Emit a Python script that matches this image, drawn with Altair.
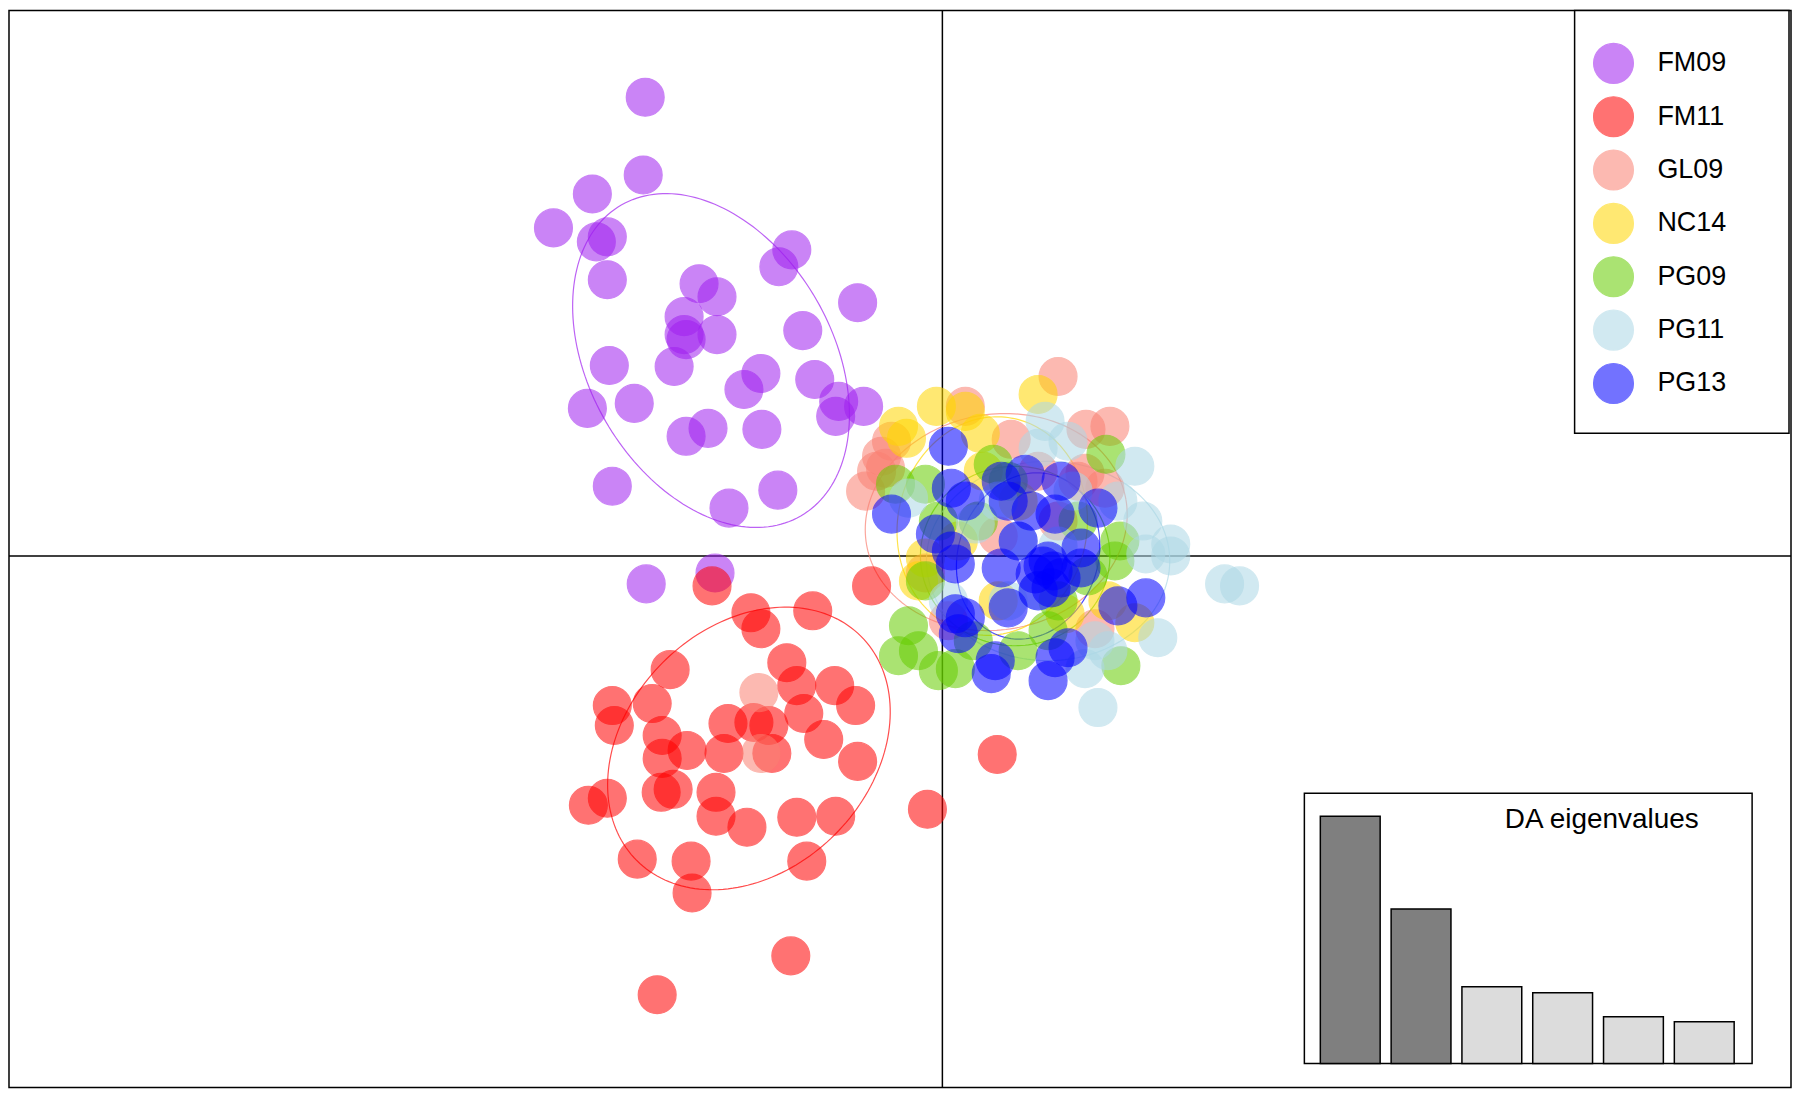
import numpy as np
import pandas as pd
import altair as alt

# ---------------- data (LD1 / LD2 scores) ----------------
groups = ["FM09", "FM11", "GL09", "NC14", "PG09", "PG11", "PG13"]
colors = ["#A020F0", "#FF0000", "#FA8072", "#FFD700", "#66CD00", "#ADD8E6", "#0000FF"]

fm09_x = [-2.98, -3.00, -3.51, -3.90, -3.47, -3.36, -3.36, -1.51, -1.64, -0.85, -2.44, -2.26,
          -2.59, -2.59, -2.57, -2.26, -1.40, -3.34, -2.69, -1.82, -1.99, -1.28, -1.04, -1.07,
          -0.79, -3.56, -3.09, -2.57, -2.35, -1.81, -3.31, -2.14, -1.65, -2.97, -2.28]
fm09_y = [4.60, 3.82, 3.63, 3.29, 3.15, 3.20, 2.77, 3.07, 2.90, 2.54, 2.73, 2.60,
          2.40, 2.22, 2.17, 2.22, 2.26, 1.91, 1.90, 1.83, 1.67, 1.77, 1.55, 1.40,
          1.50, 1.48, 1.53, 1.20, 1.28, 1.27, 0.70, 0.48, 0.66, -0.28, -0.17]

fm11_x = [-2.31, -0.71, -1.92, -1.82, -1.30, -2.73, -1.56, -1.46, -1.08, -0.87,
          -3.31, -3.29, -2.91, -1.39, -2.15, -1.89, -1.74, -2.81, -2.56, -2.81,
          -2.19, -1.71, -1.19, -0.85, -2.82, -2.70, -3.36, -3.55, -2.27, -2.27,
          -1.96, -1.46, -1.07, -0.15, -3.06, -2.52, -1.36, -2.51, -1.52, -2.86, 0.55]
fm11_y = [-0.30, -0.30, -0.57, -0.73, -0.55, -1.14, -1.07, -1.30, -1.30, -1.50,
          -1.50, -1.70, -1.48, -1.58, -1.68, -1.67, -1.70, -1.80, -1.95, -2.03,
          -1.98, -1.98, -1.84, -2.06, -2.37, -2.34, -2.43, -2.50, -2.37, -2.61,
          -2.72, -2.62, -2.61, -2.54, -3.04, -3.06, -3.06, -3.38, -4.01, -4.40, -1.99]

gl09_x = [1.16, 0.23, 1.68, 1.44, 0.69, -0.51, -0.61, -0.66, -0.77, -0.57, 1.43,
          1.63, 1.53, -0.17, 1.36, 0.96, 0.06, 0.56, 1.16, -1.84, -1.82]
gl09_y = [1.80, 1.50, 1.30, 1.27, 1.17, 1.15, 1.00, 0.85, 0.65, 0.88, 0.83,
          0.68, -0.73, -0.17, 0.75, 0.85, -0.65, 0.20, 0.35, -1.37, -1.98]

nc14_x = [0.96, -0.06, 0.23, -0.44, -0.36, 0.38, -0.17, -0.24, 1.23, 1.93, 0.41, 0.76, 0.16, 1.66, 0.56]
nc14_y = [1.62, 1.50, 1.45, 1.30, 1.18, 1.23, -0.02, -0.25, -0.58, -0.67, 0.85, 0.55, 0.15, -0.45, -0.45]

pg09_x = [1.64, 0.51, -0.17, -0.47, 1.78, 1.73, -0.34, -0.44, -0.24, -0.04, 0.13,
          -0.17, 1.79, 0.76, 0.31, 1.16, 1.46, 0.36, 0.66, -0.04, 1.06, 1.36]
pg09_y = [1.02, 0.92, 0.72, 0.72, 0.15, -0.05, -0.70, -1.00, -0.95, -1.15, -1.13,
          -0.25, -1.10, -0.95, -0.85, -0.45, -0.20, 0.35, 0.75, 0.35, -0.75, 0.35]

pg11_x = [1.03, 0.96, 1.93, 2.01, 2.29, 2.04, 2.29, 2.83, 2.98, 2.16, 1.56, 1.43, 1.53,
          -0.34, 0.33, 0.76, 1.16, 0.56, 1.31, 1.76, 0.96, 0.66, 1.66, 0.06, 1.26]
pg11_y = [1.35, 1.08, 0.90, 0.35, 0.12, 0.02, 0.00, -0.28, -0.30, -0.82, -1.52, -1.13, -0.85,
          0.58, 0.32, 0.15, 0.10, 0.55, 0.65, 0.55, -0.35, -0.45, -0.95, -0.45, 1.15]

pg13_x = [0.06, 0.09, 0.23, -0.51, 0.59, 0.83, 1.19, 1.56, 0.66, 0.89,
          1.13, -0.07, 0.09, 0.13, 1.06, 1.39, 0.59, 1.19, 1.39, 0.93,
          1.09, 1.01, 1.11, 1.76, 2.04, 0.13, 0.23, 0.66, 0.16, 0.53,
          0.49, 1.06, 1.26, 1.13, 0.96, 0.76]
pg13_y = [1.10, 0.68, 0.55, 0.42, 0.75, 0.82, 0.75, 0.48, 0.55, 0.45,
          0.42, 0.22, 0.05, -0.08, -0.05, 0.08, -0.12, -0.22, -0.12, -0.18,
          -0.32, -0.10, -0.15, -0.50, -0.42, -0.58, -0.62, -0.52, -0.78, -1.05,
          -1.18, -1.25, -0.92, -1.02, -0.35, 0.15]

# inertia ellipses per group: centre, semi-axes, rotation (degrees)
ell_cx = [-2.32, -1.94, 0.54, 0.50, 0.73, 1.06, 0.86]
ell_cy = [1.96, -1.93, 0.34, 0.30, 0.00, -0.05, 0.00]
ell_a = [1.80, 1.59, 1.32, 1.10, 0.95, 1.22, 0.85]
ell_b = [1.22, 1.22, 1.08, 0.95, 0.90, 1.00, 0.70]
ell_ang = [-60, 45, 10, 80, 0, 0, 70]

# DA eigenvalues (inset)
eig_values = [24.8, 15.5, 7.7, 7.1, 4.7, 4.2]
eig_retained = ["yes", "yes", "no", "no", "no", "no"]

# ---------------- tables ----------------
xs = [fm09_x, fm11_x, gl09_x, nc14_x, pg09_x, pg11_x, pg13_x]
ys = [fm09_y, fm11_y, gl09_y, nc14_y, pg09_y, pg11_y, pg13_y]
rows = []
for g, gx, gy in zip(groups, xs, ys):
    assert len(gx) == len(gy), g
    for a, b in zip(gx, gy):
        rows.append({"group": g, "LD1": a, "LD2": b})
pts = pd.DataFrame(rows)
pts["ord"] = np.arange(len(pts))

t = np.linspace(0, 2 * np.pi, 181)
erows = []
for g, cx, cy, a, b, ang in zip(groups, ell_cx, ell_cy, ell_a, ell_b, ell_ang):
    th = np.deg2rad(ang)
    ex = cx + a * np.cos(t) * np.cos(th) - b * np.sin(t) * np.sin(th)
    ey = cy + a * np.cos(t) * np.sin(th) + b * np.sin(t) * np.cos(th)
    for k, (u, v) in enumerate(zip(ex, ey)):
        erows.append({"group": g, "LD1": u, "LD2": v, "k": k})
ell = pd.DataFrame(erows)

eig = pd.DataFrame({"axis": np.arange(1, len(eig_values) + 1), "eig": eig_values,
                    "retained": eig_retained})

leg = pd.DataFrame({"group": groups, "idx": np.arange(len(groups))})

FONT = "Liberation Sans"
W, H = 1787, 1080
xdom = [-9.36, 8.51]
ydom = [-5.33, 5.47]
xs_ = alt.Scale(domain=xdom, nice=False, zero=False)
ys_ = alt.Scale(domain=ydom, nice=False, zero=False)
cscale = alt.Scale(domain=groups, range=colors)

# ---------------- main scatter ----------------
base_rule = alt.Chart(pd.DataFrame({"v": [0]}))
vrule = base_rule.mark_rule(color="black", strokeWidth=1.5).encode(
    x=alt.X("v:Q", scale=xs_, axis=None))
hrule = base_rule.mark_rule(color="black", strokeWidth=1.5).encode(
    y=alt.Y("v:Q", scale=ys_, axis=None))

ellipses = alt.Chart(ell).mark_line(strokeWidth=1.2, strokeOpacity=0.7).encode(
    x=alt.X("LD1:Q", scale=xs_, axis=None),
    y=alt.Y("LD2:Q", scale=ys_, axis=None),
    stroke=alt.Stroke("group:N", scale=cscale, legend=None),
    detail="group:N",
    order="k:Q",
)

points = alt.Chart(pts).mark_circle(size=1444, opacity=0.55, strokeWidth=1.2).encode(
    x=alt.X("LD1:Q", scale=xs_, axis=None),
    y=alt.Y("LD2:Q", scale=ys_, axis=None),
    color=alt.Color("group:N", scale=cscale, legend=None),
    stroke=alt.Stroke("group:N", scale=cscale, legend=None),
    order="ord:Q",
)

main = alt.layer(vrule, hrule, ellipses, points)

# ---------------- legend (drawn as marks) ----------------
legend_box = alt.Chart(pd.DataFrame({"v": [0]})).mark_rect(
    fill="white", stroke="black", strokeWidth=1.5).encode(
    x=alt.value(1570), x2=alt.value(1785), y=alt.value(0), y2=alt.value(424))

leg_y = alt.Y("idx:Q", scale=alt.Scale(domain=[0, 6], range=[53, 374], nice=False,
                                       zero=False), axis=None)
leg_sym = alt.Chart(leg).mark_circle(size=1600, opacity=0.55, strokeWidth=1.2).encode(
    x=alt.value(1609), y=leg_y,
    color=alt.Color("group:N", scale=cscale, legend=None),
    stroke=alt.Stroke("group:N", scale=cscale, legend=None),
)
leg_txt = alt.Chart(leg).mark_text(font=FONT, fontSize=27, align="left",
                                   baseline="middle", color="black").encode(
    x=alt.value(1653), y=leg_y, text="group:N")

legend = alt.layer(legend_box, leg_sym, leg_txt)

# ---------------- eigenvalue inset ----------------
inset_box = alt.Chart(pd.DataFrame({"v": [0]})).mark_rect(
    fill="white", stroke="black", strokeWidth=1.5).encode(
    x=alt.value(1299), x2=alt.value(1748), y=alt.value(785), y2=alt.value(1056))

bars = alt.Chart(eig).transform_calculate(
    lo="datum.axis - 0.4225", hi="datum.axis + 0.4225"
).mark_bar(stroke="black", strokeWidth=1.5).encode(
    x=alt.X("lo:Q", scale=alt.Scale(domain=[0.5, 6.5], range=[1309.5, 1735.5],
                                     nice=False, zero=False), axis=None),
    x2="hi:Q",
    y=alt.Y("eig:Q", scale=alt.Scale(domain=[0, 24.8], range=[1056, 808],
                                     nice=False, zero=True), axis=None),
    y2=alt.datum(0),
    fill=alt.Fill("retained:N", scale=alt.Scale(domain=["yes", "no"],
                                                range=["#7F7F7F", "#DCDCDC"]),
                  legend=None),
)

inset_title = alt.Chart(pd.DataFrame({"v": [0]})).mark_text(
    font=FONT, fontSize=28, align="left", baseline="alphabetic", color="black").encode(
    x=alt.value(1500), y=alt.value(820), text=alt.value("DA eigenvalues"))

inset = alt.layer(inset_box, bars, inset_title)

chart = alt.layer(main, legend, inset).resolve_scale(
    x="independent", y="independent"
).properties(width=W, height=H, padding=0, background="white").configure_view(
    stroke="black", strokeWidth=1.5
)

chart.save("out.html", embed_options={"renderer": "svg", "actions": False})
